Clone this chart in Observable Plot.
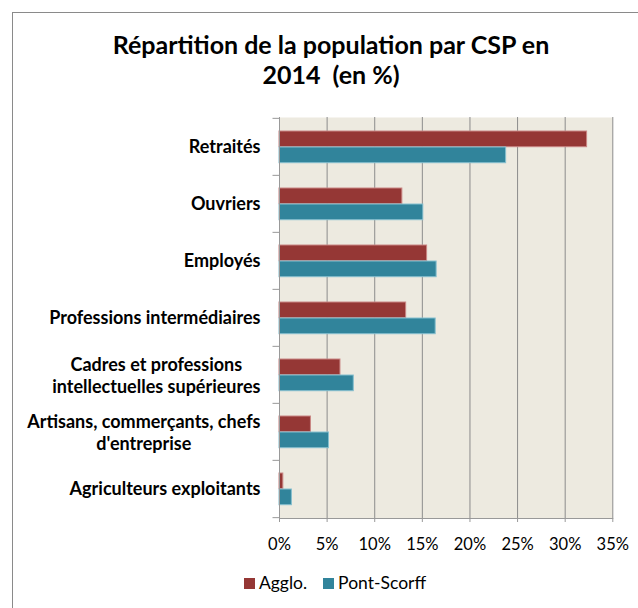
<!DOCTYPE html>
<html>
<head>
<meta charset="utf-8">
<script src="https://cdn.jsdelivr.net/npm/d3@7"></script>
<script src="https://cdn.jsdelivr.net/npm/@observablehq/plot@0.6"></script>
<style>
  body { margin: 0; background: #fff; }
  #wrap { position: relative; width: 638px; height: 608px; overflow: hidden; font-family: Lato, "Open Sans", sans-serif; color: #000; }
  #frame { position: absolute; left: 12px; top: 12px; width: 700px; height: 700px; border: 1px solid #8a8a8a; box-sizing: border-box; }
  #title { position: absolute; left: 0; top: 29px; width: 662px; text-align: center; font-weight: bold; font-size: 25px; line-height: 30px; white-space: pre; }
  #chart { position: absolute; left: 0; top: 0; }
  #legend { position: absolute; left: 0; top: 573px; width: 670px; text-align: center; font-size: 17.5px; line-height: 20px; white-space: nowrap; }
  .sw { display: inline-block; width: 11px; height: 11px; margin-right: 4px; vertical-align: baseline; }
  .item { display: inline-block; margin: 0 8px; }
</style>
</head>
<body>
<div id="wrap">
  <div id="frame"></div>
  <div id="title"></div>
  <div id="chart"></div>
  <div id="legend"></div>
</div>
<script>
// ---- data ----
const titleLines = ["Répartition de la population par CSP en", "2014  (en %)"];
const categories = [
  "Retraités",
  "Ouvriers",
  "Employés",
  "Professions intermédiaires",
  "Cadres et professions\nintellectuelles supérieures",
  "Artisans, commerçants, chefs\nd'entreprise",
  "Agriculteurs exploitants"
];
const agglo      = [32.3, 12.9, 15.5, 13.3, 6.4, 3.3, 0.4];
const pontScorff = [23.8, 15.1, 16.5, 16.4, 7.8, 5.2, 1.3];
const seriesNames = ["Agglo.", "Pont-Scorff"];
const xTicks = [0, 5, 10, 15, 20, 25, 30, 35];
const xTickLabels = ["0%", "5%", "10%", "15%", "20%", "25%", "30%", "35%"];

// ---- style ----
const colors = ["#953735", "#31849B"];
const edgeColors = ["#c98583", "#86bfcf"];
const bg = "#EDEAE0";
const gridColor = "#8c8c8c";
const axisColor = "#999999";
const labelFont = 18;
const tickFont = 16.5;

// ---- layout ----
const W = 638, H = 560, mTop = 117, mBottom = 42, mLeft = 279, mRight = 25.7;
const step = (H - mTop - mBottom) / categories.length;

const rows = categories.map((c, i) => ({cat: c, agglo: agglo[i], pont: pontScorff[i]}));

document.getElementById("title").textContent = titleLines.join("\n");

const ctx = document.createElement("canvas").getContext("2d");
ctx.font = `bold ${labelFont}px Lato`;
const single = categories.filter(c => !c.includes("\n"));
const multi = categories.filter(c => c.includes("\n"));
const multiMarks = multi.map(c => {
  const w = Math.max(...c.split("\n").map(s => ctx.measureText(s).width));
  return Plot.text([c], {y: d => d, text: d => d, frameAnchor: "left", textAnchor: "middle",
    lineAnchor: "middle", lineHeight: 1.2, dx: -19 - w / 2, fontWeight: "bold", fontSize: labelFont, fill: "#000"});
});

const chart = Plot.plot({
  width: W, height: H,
  marginTop: mTop, marginBottom: mBottom, marginLeft: mLeft, marginRight: mRight,
  style: {fontFamily: "Lato, 'Open Sans', sans-serif", fontSize: tickFont + "px", color: "#000", background: "transparent", overflow: "visible"},
  x: {domain: [0, 35], label: null},
  y: {domain: categories, padding: 0, label: null},
  marks: [
    Plot.frame({fill: bg, stroke: null}),
    Plot.ruleX(xTicks.slice(1), {stroke: gridColor, strokeWidth: 1}),
    Plot.barX(rows, {y: "cat", x: "agglo", fill: colors[0], stroke: edgeColors[0], strokeWidth: 1,
      insetTop: 13, insetBottom: step - 29}),
    Plot.barX(rows, {y: "cat", x: "pont", fill: colors[1], stroke: edgeColors[1], strokeWidth: 1,
      insetTop: 29, insetBottom: step - 45}),
    Plot.ruleX([0], {stroke: axisColor}),
    Plot.frame({anchor: "bottom", stroke: axisColor}),
    Plot.axisX({ticks: xTicks, tickFormat: d => xTickLabels[xTicks.indexOf(d)], tickSize: 4,
      tickPadding: 15.3, stroke: axisColor, fill: "#000", label: null}),
    Plot.axisY({anchor: "left", tickSize: 6.5, dy: -step / 2, stroke: axisColor, fill: "none", label: null}),
    Plot.axisY({anchor: "left", ticks: [categories[categories.length - 1]], tickSize: 6.5, dy: step / 2,
      stroke: axisColor, fill: "none", label: null}),
    Plot.text(single, {y: d => d, text: d => d, frameAnchor: "left", textAnchor: "end", lineAnchor: "middle",
      dx: -19, fontWeight: "bold", fontSize: labelFont, fill: "#000"}),
    ...multiMarks
  ]
});
document.getElementById("chart").appendChild(chart);

const legend = document.getElementById("legend");
seriesNames.forEach((name, i) => {
  const item = document.createElement("span");
  item.className = "item";
  const sw = document.createElement("span");
  sw.className = "sw";
  sw.style.background = colors[i];
  item.appendChild(sw);
  item.appendChild(document.createTextNode(name));
  legend.appendChild(item);
});
</script>
</body>
</html>
